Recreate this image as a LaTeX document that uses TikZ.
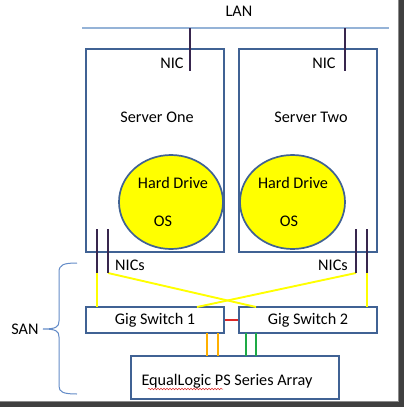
\documentclass[tikz,border=0pt]{standalone}
\usepackage{fontspec}
\setmainfont{Carlito}
\usetikzlibrary{decorations.pathmorphing,shapes.geometric}
\definecolor{boxblue}{RGB}{64,98,148}
\definecolor{lanblue}{RGB}{149,179,215}
\definecolor{nicpurple}{RGB}{56,38,78}
\definecolor{braceblue}{RGB}{100,140,200}
\definecolor{myyellow}{RGB}{255,255,0}
\definecolor{myorange}{RGB}{255,176,0}
\definecolor{mygreen}{RGB}{30,170,70}
\definecolor{myred}{RGB}{220,40,40}
\begin{document}
\begin{tikzpicture}[x=1pt,y=-1pt,
  every node/.style={font=\fontsize{16.2}{18}\selectfont, text=black},
  boxstyle/.style={draw=boxblue, line width=1.7pt, rectangle, inner sep=0pt},
  diskstyle/.style={draw=boxblue, line width=1.7pt, fill=myyellow, ellipse, inner sep=0pt},
  label/.style={inner sep=0pt},
  niclink/.style={draw=nicpurple, line width=1.6pt},
  sanlink/.style={draw=myyellow, line width=1.9pt},
  every path/.style={line cap=butt}]
\useasboundingbox (0,0) rectangle (404,407);
\fill[white] (0,0) rectangle (404,407);
% shadow
\fill[black!75] (399,0) rectangle (404,407);
\fill[black!75] (0,402) rectangle (404,407);
\fill[black!45] (398,0) rectangle (399,402);
\fill[black!45] (0,401) rectangle (399,402);

% LAN
\node[label] (lan) at (239,11) {LAN};
\coordinate (lanL) at (82,28);
\coordinate (lanR) at (389,28);
\draw[draw=lanblue, line width=1.5pt] (lanL) -- (lanR);

% servers
\node[boxstyle, minimum width=138pt, minimum height=203pt] (s1) at (155,150.3) {};
\node[boxstyle, minimum width=138pt, minimum height=203pt] (s2) at (308,150.3) {};
\node[label] (s1t) at (157,117) {Server One};
\node[label] (s2t) at (311,117) {Server Two};
\node[label] (nic1) at (172,63) {NIC};
\node[label] (nic2) at (324,63) {NIC};
\coordinate (l1a) at (190,28); \coordinate (l1b) at (190,71);
\coordinate (l2a) at (345,28); \coordinate (l2b) at (345,71);
\draw[niclink] (l1a) -- (l1b);
\draw[niclink] (l2a) -- (l2b);

% disks
\node[diskstyle, minimum width=104pt, minimum height=94pt] (d1) at (171,202) {};
\node[diskstyle, minimum width=105pt, minimum height=94pt] (d2) at (292.5,202) {};
\node[label] (hd1) at (173,183) {Hard Drive};
\node[label] (os1) at (163,221) {OS};
\node[label] (hd2) at (293,183) {Hard Drive};
\node[label] (os2) at (289,221) {OS};

% SAN NICs
\coordinate (n1a) at (97,229); \coordinate (n1ab) at (97,273);
\coordinate (n1b) at (108,229); \coordinate (n1bb) at (108,273);
\coordinate (n2a) at (356,229); \coordinate (n2ab) at (356,273);
\coordinate (n2b) at (367,229); \coordinate (n2bb) at (367,273);
\node[label] (nics1) at (130,265) {NICs};
\node[label] (nics2) at (333,265) {NICs};

% switches
\node[boxstyle, minimum width=138pt, minimum height=26pt] (sw1) at (155,320) {Gig Switch 1};
\node[boxstyle, minimum width=138pt, minimum height=26pt] (sw2) at (308,320) {Gig Switch 2};

% yellow links
\coordinate (y1) at (97,307);
\coordinate (y2) at (256,307);
\coordinate (y3) at (197,307);
\coordinate (y4) at (367,307);
\draw[sanlink] (n1ab) -- (y1);
\draw[sanlink] (n1bb) -- (y2);
\draw[sanlink] (n2ab) -- (y3);
\draw[sanlink] (n2bb) -- (y4);
\draw[niclink] (n1a) -- (n1ab);
\draw[niclink] (n1b) -- (n1bb);
\draw[niclink] (n2a) -- (n2ab);
\draw[niclink] (n2b) -- (n2bb);

% inter-switch
\draw[draw=myred, line width=1.5pt] (sw1.east) -- (sw2.west);

% array
\node[boxstyle, minimum width=208pt, minimum height=43pt] (arr) at (235,377.5) {};
\node[label] (arrt) at (227,381) {EqualLogic PS Series Array};
\coordinate (sq1) at (148,389);
\coordinate (sq2) at (223,389);
\draw[myred, line width=0.5pt, decorate, decoration={snake, amplitude=0.8pt, segment length=3pt}] (sq1) -- (sq2);

% array links
\foreach \x/\c in {207/myorange,218/myorange,246/mygreen,256/mygreen}{
  \draw[draw=\c, line width=1.5pt] (\x,333) -- (\x,356);
}

% brace
\node[label] (san) at (25,329) {SAN};
\coordinate (bt) at (77,263);
\coordinate (bb) at (77,394);
\coordinate (tip) at (43,329);
\draw[braceblue, line width=1pt] (bt) .. controls (63,263) and (59,265) .. (59,272) -- (59,321) .. controls (59,327) and (56,329) .. (tip)
  .. controls (56,329) and (59,331) .. (59,337) -- (59,386) .. controls (59,392) and (63,394) .. (bb);
\end{tikzpicture}
\end{document}
